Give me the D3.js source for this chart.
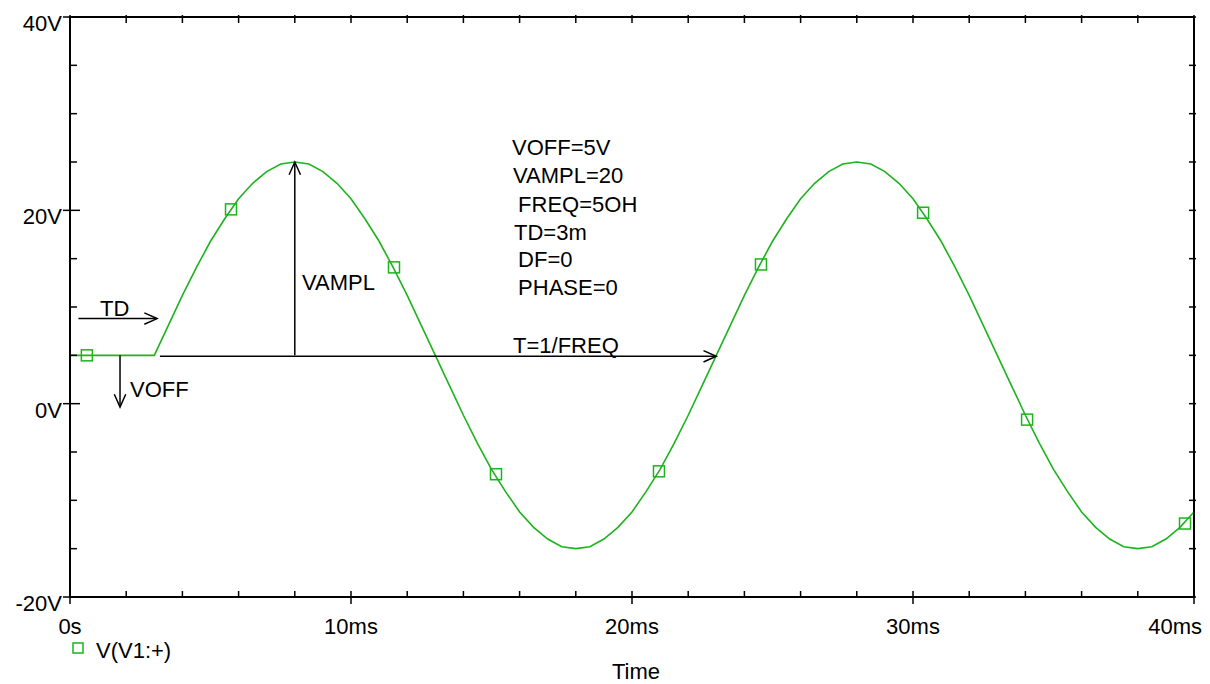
<!DOCTYPE html>
<html>
<head>
<meta charset="utf-8">
<script src="https://cdn.jsdelivr.net/npm/d3@7"></script>
<style>
  body { margin: 0; background: #fff; }
  svg { font-family: "Liberation Sans", Arial, sans-serif; }
</style>
</head>
<body>
<svg width="1210" height="684"></svg>
<script>
// waveform V(V1:+), time in ms, voltage in V
var times = [0, 3, 3.5, 4, 4.5, 5, 5.5, 6, 6.5, 7, 7.5, 8, 8.5, 9, 9.5, 10, 10.5, 11, 11.5, 12, 12.5,
  13, 13.5, 14, 14.5, 15, 15.5, 16, 16.5, 17, 17.5, 18, 18.5, 19, 19.5, 20, 20.5, 21, 21.5, 22, 22.5,
  23, 23.5, 24, 24.5, 25, 25.5, 26, 26.5, 27, 27.5, 28, 28.5, 29, 29.5, 30, 30.5, 31, 31.5, 32, 32.5,
  33, 33.5, 34, 34.5, 35, 35.5, 36, 36.5, 37, 37.5, 38, 38.5, 39, 39.5, 40];
var volts = [5, 5, 8.1, 11.2, 14.1, 16.8, 19.1, 21.2, 22.8, 24.0, 24.8, 25, 24.8, 24.0, 22.8, 21.2, 19.1,
  16.8, 14.1, 11.2, 8.1, 5, 1.9, -1.2, -4.1, -6.8, -9.1, -11.2, -12.8, -14.0, -14.8, -15, -14.8, -14.0,
  -12.8, -11.2, -9.1, -6.8, -4.1, -1.2, 1.9, 5, 8.1, 11.2, 14.1, 16.8, 19.1, 21.2, 22.8, 24.0, 24.8, 25,
  24.8, 24.0, 22.8, 21.2, 19.1, 16.8, 14.1, 11.2, 8.1, 5, 1.9, -1.2, -4.1, -6.8, -9.1, -11.2, -12.8,
  -14.0, -14.8, -15, -14.8, -14.0, -12.8, -11.2];

// square markers on the trace
var markT = [0.6, 5.73, 11.53, 15.16, 20.96, 24.59, 30.36, 34.06, 39.68];
var markV = [5, 20.1, 14.1, -7.3, -7.0, 14.4, 19.75, -1.65, -12.4];

var xTicks = [0, 10, 20, 30, 40];
var xTickLabels = ['0s', '10ms', '20ms', '30ms', '40ms'];
var yTicks = [-20, 0, 20, 40];
var yTickLabels = ['-20V', '0V', '20V', '40V'];

var params = ['VOFF=5V', 'VAMPL=20', ' FREQ=5OH', 'TD=3m', ' DF=0', ' PHASE=0'];

var green = '#1db31d';

var svg = d3.select('svg');

var x = d3.scaleLinear().domain([0, 40]).range([70, 1194]);
var y = d3.scaleLinear().domain([-20, 40]).range([597, 17]);

var pts = times.map(function(t, i) { return [t, volts[i]]; });

svg.append('clipPath').attr('id', 'clip')
    .append('rect').attr('x', 70).attr('y', 17).attr('width', 1124).attr('height', 580);

var line = d3.line()
    .x(function(d) { return x(d[0]); })
    .y(function(d) { return y(d[1]); });

svg.append('path')
    .datum(pts)
    .attr('clip-path', 'url(#clip)')
    .attr('fill', 'none')
    .attr('stroke', green)
    .attr('stroke-width', 1.6)
    .attr('d', line);

svg.selectAll('rect.mark')
    .data(markT)
    .enter()
    .append('rect')
    .attr('class', 'mark')
    .attr('x', function(d) { return x(d) - 5.5; })
    .attr('y', function(d, i) { return y(markV[i]) - 5.5; })
    .attr('width', 11)
    .attr('height', 11)
    .attr('fill', 'none')
    .attr('stroke', green)
    .attr('stroke-width', 1.5);

// frame + ticks
var axes = svg.append('g').attr('stroke', '#000');

axes.append('rect')
    .attr('x', 70).attr('y', 17).attr('width', 1124).attr('height', 580)
    .attr('fill', 'none').attr('stroke-width', 2);

var minorX = d3.range(0, 40.01, 2);
var minorY = d3.range(-20, 40.01, 5);

minorX.forEach(function(t) {
    var major = t % 10 === 0;
    axes.append('line').attr('x1', x(t)).attr('x2', x(t))
        .attr('y1', 597 - 6).attr('y2', major ? 597 + 7 : 597).attr('stroke-width', 1.5);
    axes.append('line').attr('x1', x(t)).attr('x2', x(t))
        .attr('y1', 17 - 2).attr('y2', 17 + 6).attr('stroke-width', 1.5);
});

minorY.forEach(function(v) {
    var major = v % 20 === 0;
    axes.append('line').attr('y1', y(v)).attr('y2', y(v))
        .attr('x1', major ? 70 - 7 : 70).attr('x2', major ? 70 + 10 : 70 + 7).attr('stroke-width', 1.5);
    axes.append('line').attr('y1', y(v)).attr('y2', y(v))
        .attr('x1', 1194 - 5).attr('x2', 1194 + 2).attr('stroke-width', 1.5);
});

var fs = 22;

svg.selectAll('text.ylab')
    .data(yTicks)
    .enter()
    .append('text')
    .attr('class', 'ylab')
    .attr('x', 62)
    .attr('y', function(d) { return y(d) + 14; })
    .attr('text-anchor', 'end')
    .attr('font-size', fs)
    .text(function(d, i) { return yTickLabels[i]; });

svg.selectAll('text.xlab')
    .data(xTicks)
    .enter()
    .append('text')
    .attr('class', 'xlab')
    .attr('x', function(d, i) { return i === xTicks.length - 1 ? 1202 : x(d); })
    .attr('y', 634)
    .attr('text-anchor', function(d, i) { return i === xTicks.length - 1 ? 'end' : 'middle'; })
    .attr('font-size', fs)
    .text(function(d, i) { return xTickLabels[i]; });

svg.append('text')
    .attr('x', 636).attr('y', 679)
    .attr('text-anchor', 'middle')
    .attr('font-size', fs)
    .text('Time');

// legend
svg.append('rect')
    .attr('x', 73).attr('y', 643).attr('width', 10).attr('height', 10)
    .attr('fill', 'none').attr('stroke', green).attr('stroke-width', 1.5);
svg.append('text')
    .attr('x', 96).attr('y', 658)
    .attr('font-size', fs)
    .text('V(V1:+)');

// annotations (arrows in data coordinates)
var arrows = [
    { t1: 0.3, v1: 8.8, t2: 3.1, v2: 8.8 },
    { t1: 1.78, v1: 5, t2: 1.78, v2: -0.35 },
    { t1: 8, v1: 5, t2: 8, v2: 25 },
    { t1: 3.2, v1: 4.9, t2: 23, v2: 4.9 }
];

var ann = svg.append('g').attr('stroke', '#000').attr('stroke-width', 1.5).attr('fill', 'none');

arrows.forEach(function(a) {
    var x1 = x(a.t1), y1 = y(a.v1), x2 = x(a.t2), y2 = y(a.v2);
    ann.append('line').attr('x1', x1).attr('y1', y1).attr('x2', x2).attr('y2', y2);
    var ang = Math.atan2(y2 - y1, x2 - x1);
    var len = 14, spread = 0.42;
    ann.append('path').attr('d',
        'M' + (x2 - len * Math.cos(ang - spread)) + ',' + (y2 - len * Math.sin(ang - spread)) +
        'L' + x2 + ',' + y2 +
        'L' + (x2 - len * Math.cos(ang + spread)) + ',' + (y2 - len * Math.sin(ang + spread)));
});

var labels = [
    { text: 'TD', px: 100, py: 316 },
    { text: 'VOFF', px: 130, py: 397 },
    { text: 'VAMPL', px: 302, py: 290 },
    { text: 'T=1/FREQ', px: 513, py: 353 }
];

svg.selectAll('text.ann')
    .data(labels)
    .enter()
    .append('text')
    .attr('class', 'ann')
    .attr('x', function(d) { return d.px; })
    .attr('y', function(d) { return d.py; })
    .attr('font-size', fs)
    .text(function(d) { return d.text; });

var paramX = [512, 513, 512, 514, 512, 512];
var paramY = [155, 183, 212, 240, 267, 295];

svg.selectAll('text.param')
    .data(params)
    .enter()
    .append('text')
    .attr('class', 'param')
    .attr('x', function(d, i) { return paramX[i]; })
    .attr('y', function(d, i) { return paramY[i]; })
    .attr('font-size', fs)
    .attr('xml:space', 'preserve')
    .style('white-space', 'pre')
    .text(function(d) { return d; });
</script>
</body>
</html>
